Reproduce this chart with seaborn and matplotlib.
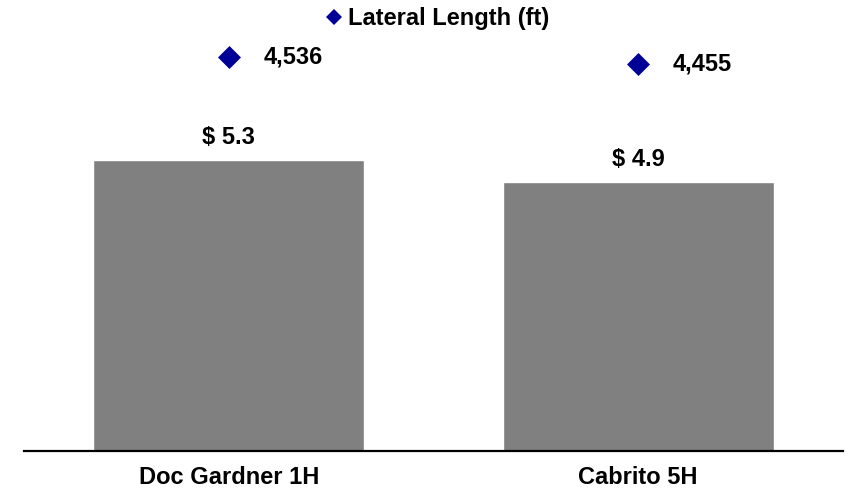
import matplotlib
matplotlib.use("Agg")
import matplotlib.pyplot as plt
from matplotlib.lines import Line2D
import seaborn as sns
import pandas as pd

# Well data
wells = ["Doc Gardner 1H", "Cabrito 5H"]
well_cost = [5.3, 4.9]            # $ MM
lateral_length = [4536, 4455]     # ft
cost_labels = ["$ 5.3", "$ 4.9"]
length_labels = ["4,536", "4,455"]
legend_label = "Lateral Length (ft)"

BAR_COLOR = "#808080"
DIAMOND_COLOR = "#000096"

sns.set_theme(style="white")
plt.rcParams["font.family"] = ["Liberation Sans", "DejaVu Sans"]
plt.rcParams["font.weight"] = "bold"
plt.rcParams["text.color"] = "black"
plt.rcParams["xtick.color"] = "black"
plt.rcParams["xtick.labelcolor"] = "black"

df = pd.DataFrame({"well": wells, "cost": well_cost, "length": lateral_length})

fig = plt.figure(figsize=(8.54, 4.92), dpi=100)
ax = fig.add_axes([24 / 854, 41.5 / 492, 819 / 854, 450.5 / 492])

sns.barplot(data=df, x="well", y="cost", color=BAR_COLOR, saturation=1,
            width=0.663, ax=ax)
ax.set_xlim(-0.5, 1.5)
ax.set_ylim(0, 8.22)
ax.bar_label(ax.containers[0], labels=cost_labels, padding=8,
             fontsize=17, fontweight="bold", color="black")

ax2 = ax.twinx()
sns.scatterplot(data=df, x="well", y="length", marker="D", s=137,
                color=DIAMOND_COLOR, linewidth=0, ax=ax2, legend=False)
ax2.set_ylim(0, 5193)
for x, y, lab in zip(wells, lateral_length, length_labels):
    ax2.annotate(lab, xy=(x, y), xytext=(25, 0), textcoords="offset points",
                 ha="left", va="center", fontsize=17, fontweight="bold",
                 color="black")

for a in (ax, ax2):
    for side in ("top", "right", "left"):
        a.spines[side].set_visible(False)
    a.set_yticks([])
    a.set_ylabel("")
    a.set_xlabel("")
ax2.spines["bottom"].set_visible(False)
ax.spines["bottom"].set_color("black")
ax.spines["bottom"].set_linewidth(1.6)
ax.tick_params(axis="x", length=0, pad=11, labelsize=17, labelcolor="black")
for t in ax.get_xticklabels():
    t.set_fontweight("bold")
    t.set_color("black")

handle = Line2D([], [], marker="D", linestyle="", color=DIAMOND_COLOR,
                markersize=8, markeredgewidth=0)
leg = fig.legend(handles=[handle], labels=[legend_label], loc="center",
                 bbox_to_anchor=(438.5 / 854, 1 - 19 / 492), frameon=False,
                 handlelength=0.6, handletextpad=0.3, borderpad=0,
                 prop={"size": 17, "weight": "bold"})
for t in leg.get_texts():
    t.set_color("black")

fig.savefig("out.png", dpi=100)
